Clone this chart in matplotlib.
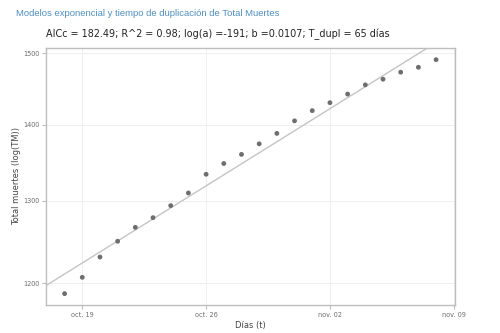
import matplotlib
matplotlib.use('Agg')
import matplotlib.pyplot as plt
import matplotlib.dates as mdates
import matplotlib.ticker as mticker
import numpy as np
import pandas as pd

# datos
fechas = pd.date_range('2020-10-18', '2020-11-08', freq='D')
total_muertes = [1188, 1207, 1231, 1250, 1267, 1279, 1294, 1310, 1334, 1348, 1360,
                 1374, 1388, 1405, 1419, 1430, 1442, 1455, 1463, 1473, 1480, 1491]

# parametros del modelo exponencial (t en dias desde 1970-01-01)
log_a = -191.418
b = 0.0107

titulo = 'Modelos exponencial y tiempo de duplicación de Total Muertes'
subtitulo = 'AICc = 182.49; R^2 = 0.98; log(a) =-191; b =0.0107; T_dupl = 65 días'
ticks_x = pd.to_datetime(['2020-10-19', '2020-10-26', '2020-11-02', '2020-11-09'])
ticks_x_labels = ['oct. 19', 'oct. 26', 'nov. 02', 'nov. 09']
ticks_y = [1200, 1300, 1400, 1500]

fig = plt.figure(figsize=(5, 3.33), dpi=100)
ax = fig.add_axes([0.092, 0.0841, 0.818, 0.7718])

x0 = mdates.date2num(pd.Timestamp('2020-10-16 22:48'))
x1 = mdates.date2num(pd.Timestamp('2020-11-09 01:40'))
t_line = np.array([x0 - 1, x1 + 1])
ax.plot(t_line, np.exp(log_a + b * t_line), color='#c4c4c4', lw=1.0, zorder=2)
ax.scatter(mdates.date2num(fechas), total_muertes, s=12, color='#6e6e6e',
           edgecolors='none', zorder=3)

ax.set_yscale('log')
ax.set_xlim(x0, x1)
ax.set_ylim(1175, 1508)
ax.yaxis.set_major_locator(mticker.FixedLocator(ticks_y))
ax.yaxis.set_major_formatter(mticker.FixedFormatter([str(v) for v in ticks_y]))
ax.yaxis.set_minor_locator(mticker.NullLocator())
ax.set_xticks(mdates.date2num(ticks_x))
ax.set_xticklabels(ticks_x_labels)

ax.grid(True, color='#ececec', lw=0.6)
ax.set_axisbelow(True)
for s in ax.spines.values():
    s.set_color('#bdbdbd')
    s.set_linewidth(1.0)
ax.tick_params(axis='both', colors='#bdbdbd', labelcolor='#6b6b6b',
               labelsize=4.7, length=3, width=0.8, pad=2)

ax.set_xlabel('Días (t)', fontsize=6, color='#444444', labelpad=2)
ax.set_ylabel('Total muertes (log(TM))', fontsize=6, color='#444444', labelpad=1.5)

fig.text(0.032, 0.958, titulo, fontsize=6.8, color='#4f8fbf',
         family='Liberation Sans', va='center', ha='left')
fig.text(0.092, 0.898, subtitulo, fontsize=6.9, color='#222222',
         va='center', ha='left')

fig.savefig('out.png', dpi=100)
